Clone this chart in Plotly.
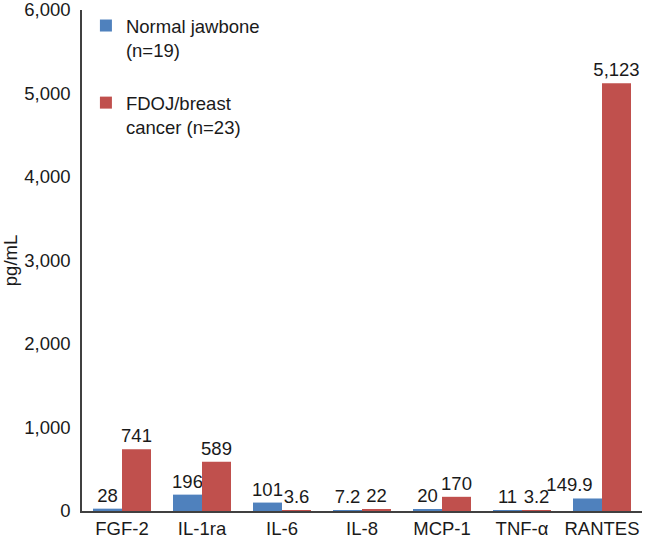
import plotly.graph_objects as go

categories = ["FGF-2", "IL-1ra", "IL-6", "IL-8", "MCP-1", "TNF-\u03b1", "RANTES"]
normal_values = [28, 196, 101, 7.2, 20, 11, 149.9]
normal_labels = ["28", "196", "101", "7.2", "20", "11", "149.9"]
fdoj_values = [741, 589, 3.6, 22, 170, 3.2, 5123]
fdoj_labels = ["741", "589", "3.6", "22", "170", "3.2", "5,123"]
series_names = ["Normal jawbone<br>(n=19)", "FDOJ/breast<br>cancer (n=23)"]
y_tickvals = [0, 1000, 2000, 3000, 4000, 5000, 6000]
y_ticktext = ["0", "1,000", "2,000", "3,000", "4,000", "5,000", "6,000"]

# trailing padding (styling only) to nudge a label left so it clears the neighbour bar
normal_label_pad = [0, 0, 0, 0, 0, 0, 7]

FONT = "Liberation Sans, Arial, sans-serif"
FS = 18.5
TXT = "#1a1a1a"

normal_text = [t + "\u00a0" * p for t, p in zip(normal_labels, normal_label_pad)]

fig = go.Figure()
fig.add_trace(go.Bar(
    x=categories, y=normal_values, name=series_names[0],
    marker=dict(color="#4F81BD", line=dict(width=0)),
    text=normal_text, textposition="outside", constraintext="none",
    textfont=dict(family=FONT, size=FS, color=TXT), cliponaxis=False,
    legendgroup="a",
))
fig.add_trace(go.Bar(
    x=categories, y=fdoj_values, name=series_names[1],
    marker=dict(color="#C0504D", line=dict(width=0)),
    text=fdoj_labels, textposition="outside", constraintext="none",
    textfont=dict(family=FONT, size=FS, color=TXT), cliponaxis=False,
    legendgroup="b",
))

fig.update_layout(
    width=645, height=538,
    margin=dict(l=82, r=3, t=10, b=27, autoexpand=False),
    paper_bgcolor="white", plot_bgcolor="white",
    font=dict(family=FONT, size=FS, color=TXT),
    barmode="group", bargap=0.275, bargroupgap=0,
    showlegend=True,
    legend=dict(
        x=0.007, y=1.006, xanchor="left", yanchor="top",
        bgcolor="rgba(0,0,0,0)", traceorder="grouped", tracegroupgap=26,
        valign="top", itemwidth=30,
        font=dict(family=FONT, size=FS, color=TXT),
    ),
    xaxis=dict(
        showline=True, linecolor="#404040", linewidth=1.5,
        ticks="", showgrid=False, zeroline=False, automargin=False,
        tickfont=dict(family=FONT, size=FS, color=TXT),
    ),
    yaxis=dict(
        range=[0, 6000], tickvals=y_tickvals, ticktext=y_ticktext,
        showline=True, linecolor="#404040", linewidth=1.5,
        ticks="", showgrid=False, zeroline=False, automargin=False,
        ticklabeloverflow="allow",
        tickfont=dict(family=FONT, size=FS, color=TXT),
        ticklabelstandoff=6,
        title=dict(text="pg/mL", font=dict(family=FONT, size=FS, color=TXT), standoff=14),
    ),
)

fig.write_html("out.html", config={"displayModeBar": False},
               post_script="document.body.style.margin='0';")
